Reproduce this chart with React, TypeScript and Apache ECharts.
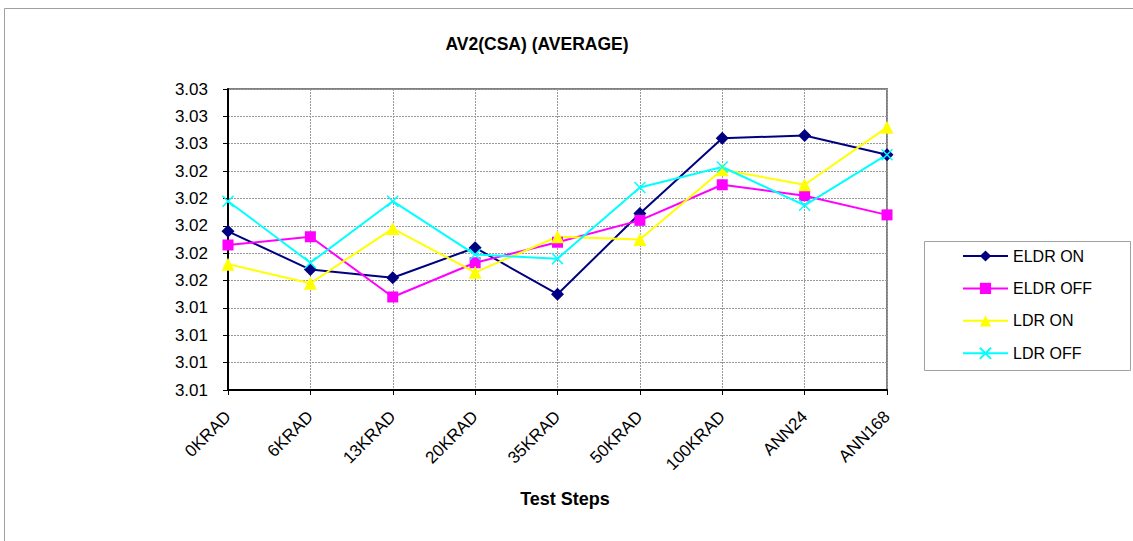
import React, { useEffect, useRef } from "react";
import * as echarts from "echarts";

const categories = ["0KRAD", "6KRAD", "13KRAD", "20KRAD", "35KRAD", "50KRAD", "100KRAD", "ANN24", "ANN168"];
const eldrOn = [3.0196, 3.0168, 3.0162, 3.0184, 3.015, 3.0209, 3.0264, 3.0266, 3.0252];
const eldrOff = [3.0186, 3.0192, 3.0148, 3.0173, 3.0188, 3.0204, 3.023, 3.0222, 3.0208];
const ldrOn = [3.0172, 3.0158, 3.0198, 3.0166, 3.0192, 3.019, 3.0241, 3.023, 3.0272];
const ldrOff = [3.0218, 3.0173, 3.0218, 3.0179, 3.0176, 3.0228, 3.0243, 3.0215, 3.0252];
const seriesNames = ["ELDR ON", "ELDR OFF", "LDR ON", "LDR OFF"];
const yMin = 3.008;
const yMax = 3.03;
const yStep = 0.002;

const FONT = "Arial, 'Liberation Sans', sans-serif";

export default function App() {
  const ref = useRef<HTMLDivElement>(null);
  useEffect(() => {
    if (!ref.current) return;
    const chart = echarts.init(ref.current, null, { renderer: "svg" });
    const mk = (name: string, data: number[], color: string, symbol: string, size: number, extra: any = {}) => ({
      name,
      type: "line",
      data,
      symbol,
      symbolSize: size,
      lineStyle: { color, width: 2 },
      itemStyle: { color, borderColor: color, borderWidth: 0, ...extra },
      emphasis: { disabled: true },
      z: 3,
    });
    chart.setOption({
      animation: false,
      textStyle: { fontFamily: FONT },
      grid: {
        left: 228,
        right: 246,
        top: 89,
        bottom: 151,
        show: true,
        borderColor: "#808080",
        borderWidth: 2,
        backgroundColor: "transparent",
      },
      legend: {
        show: true,
        orient: "vertical",
        left: 962,
        top: 248,
        padding: 0,
        itemWidth: 45,
        itemHeight: 14,
        itemGap: 16.4,
        textStyle: { fontSize: 16, color: "#000", fontFamily: FONT },
        data: seriesNames,
      },
      xAxis: {
        type: "category",
        data: categories,
        boundaryGap: false,
        axisLine: { lineStyle: { color: "#000", width: 2 } },
        axisTick: { show: true, length: 5, lineStyle: { color: "#000" } },
        axisLabel: {
          rotate: 45,
          fontSize: 17,
          color: "#000",
          margin: 24,
          fontFamily: FONT,
        },
        splitLine: { show: true, lineStyle: { color: "#999", type: [2, 1], width: 1 } },
      },
      yAxis: {
        type: "value",
        min: yMin,
        max: yMax,
        interval: yStep,
        axisLine: { show: true, lineStyle: { color: "#000", width: 2 } },
        axisTick: { show: true, length: 5, lineStyle: { color: "#000" } },
        axisLabel: {
          fontSize: 17,
          color: "#000",
          margin: 20,
          fontFamily: FONT,
          formatter: (v: number) => v.toFixed(2),
        },
        splitLine: { show: true, lineStyle: { color: "#999", type: [2, 1], width: 1 } },
      },
      series: [
        mk(seriesNames[0], eldrOn, "#000080", "diamond", 13),
        mk(seriesNames[1], eldrOff, "#FF00FF", "rect", 11),
        mk(seriesNames[2], ldrOn, "#FFFF00", "triangle", 13),
        mk(seriesNames[3], ldrOff, "#00FFFF", "path://M0,0L10,10M10,0L0,10", 11, { borderWidth: 1.5, color: "none" }),
      ],
      graphic: [
        {
          type: "rect",
          shape: { x: 4.5, y: 8.5, width: 1200, height: 600 },
          style: { fill: "none", stroke: "#a0a0a0", lineWidth: 1 },
          silent: true,
        },
        {
          type: "rect",
          shape: { x: 924.5, y: 241.5, width: 206, height: 129 },
          style: { fill: "none", stroke: "#a0a0a0", lineWidth: 1 },
          silent: true,
        },
        {
          type: "text",
          x: 537,
          y: 44,
          style: {
            text: "AV2(CSA) (AVERAGE)",
            font: `bold 17.5px ${FONT}`,
            fill: "#000",
            align: "center",
            verticalAlign: "middle",
          },
        },
        {
          type: "text",
          x: 565,
          y: 499,
          style: {
            text: "Test Steps",
            font: `bold 18px ${FONT}`,
            fill: "#000",
            align: "center",
            verticalAlign: "middle",
          },
        },
      ],
    });
    return () => chart.dispose();
  }, []);
  return (
    <div
      ref={ref}
      style={{ position: "fixed", left: 0, top: 0, width: 1133, height: 541, background: "#fff" }}
    />
  );
}
